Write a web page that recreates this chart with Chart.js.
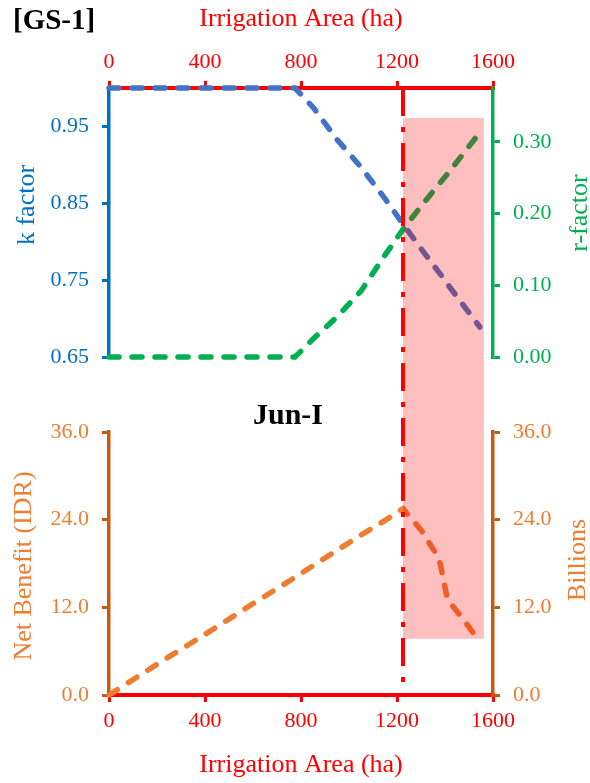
<!DOCTYPE html>
<html>
<head>
<meta charset="utf-8">
<script src="https://cdn.jsdelivr.net/npm/chart.js@4.4.1/dist/chart.umd.min.js"></script>
<style>
  html, body { margin: 0; padding: 0; background: #fff; }
  body { width: 590px; height: 783px; position: relative; overflow: hidden;
         font-family: "Liberation Serif", "Times New Roman", serif; }
  .box { position: absolute; left: 0; width: 590px; }
  #top-box { top: 0; height: 395px; }
  #bot-box { top: 395px; height: 388px; }
  .label { position: absolute; white-space: nowrap; line-height: 1; }
  .vlabel { font-size: 26px; transform: translate(-50%, -50%) rotate(-90deg); }
  #gs { left: 13px; top: 5px; font-size: 29px; font-weight: bold; color: #000; }
  #month { left: 288px; top: 414px; font-size: 30px; font-weight: bold; color: #000; transform: translate(-50%, -50%); }
</style>
</head>
<body>
<div id="top-box" class="box"><canvas id="chart-top"></canvas></div>
<div id="bot-box" class="box"><canvas id="chart-bottom"></canvas></div>

<div id="gs" class="label">[GS-1]</div>
<div id="month" class="label">Jun-I</div>
<div class="label vlabel" style="left:26px; top:205px; color:#0070C0">k factor</div>
<div class="label vlabel" style="left:579px; top:213px; color:#00B050">r-factor</div>
<div class="label vlabel" style="left:23px; top:566px; color:#ED7D31">Net Benefit (IDR)</div>
<div class="label vlabel" style="left:577px; top:560px; color:#ED7D31">Billions</div>

<script>
/* ---- Data ---- */
const AREA_TICKS = [0, 400, 800, 1200, 1600];
const K_TICKS = [0.65, 0.75, 0.85, 0.95];
const R_TICKS = [0, 0.1, 0.2, 0.3];
const NB_TICKS = [0, 12, 24, 36];

const irrigationArea = [0, 200, 400, 600, 775, 850, 950, 1050, 1150, 1225, 1300, 1375, 1390, 1410, 1475, 1545];
const kFactor    = [1, 1, 1, 1, 1, 0.975, 0.933, 0.897, 0.856, 0.823, 0.791, 0.760, 0.754, 0.745, 0.718, 0.689];
const rFactor    = [0, 0, 0, 0, 0, 0.025, 0.056, 0.092, 0.142, 0.178, 0.210, 0.241, 0.247, 0.255, 0.283, 0.313];
const netBenefit = [0, 4.2, 8.3, 12.5, 16.1, 17.7, 19.8, 21.9, 23.9, 25.5, 22.6, 18.7, 16.4, 13.1, 10.4, 7.3];

// optimum area and the shaded band
const optimumArea = 1225;
const shadeArea = [1225, 1562];
const shadeTopK = 0.961;
const shadeBottomNB = 7.7;

/* ---- Style ---- */
const RED = "#FF0000";
const SHADE = "rgba(255,0,0,0.25)";
const DASH_DOT = [28, 11, 5, 11];

Chart.defaults.font.family = '"Liberation Serif", "Times New Roman", serif';
Chart.defaults.font.size = 22;

const pts = ys => irrigationArea.map((x, i) => ({ x, y: ys[i] }));

function dashed(label, data, color, axis) {
  return {
    label, data, yAxisID: axis,
    borderColor: color, borderWidth: 5.5, borderDash: [10, 13], borderCapStyle: "round",
    pointRadius: 0, tension: 0, fill: false, clip: false
  };
}

function xAxis(pos) {
  return {
    type: "linear", axis: "x", position: pos, min: 0, max: 1600,
    afterBuildTicks: s => { s.ticks = AREA_TICKS.map(v => ({ value: v })); },
    afterFit: s => { s.height = 88; },
    border: { color: RED, width: 4 },
    grid: { drawOnChartArea: false, drawTicks: true, tickLength: 7, color: RED, lineWidth: 3 },
    ticks: { color: RED, padding: 6, maxRotation: 0, callback: v => String(v) },
    title: { display: true, text: "Irrigation Area (ha)", color: RED, font: { size: 26 }, padding: { top: 4, bottom: 2 } }
  };
}

function yAxis(pos, lineColor, textColor, ticks, min, max, digits, width) {
  return {
    type: "linear", axis: "y", position: pos, min, max,
    afterBuildTicks: s => { s.ticks = ticks.map(v => ({ value: v })); },
    afterFit: s => { s.width = width; },
    border: { color: lineColor, width: 3.5 },
    grid: { drawOnChartArea: false, drawTicks: true, tickLength: 7, color: lineColor, lineWidth: 3 },
    ticks: { color: textColor, padding: 13, callback: v => Number(v).toFixed(digits) }
  };
}

function drawMarker(ctx, x, y0, y1, offset) {
  ctx.save();
  ctx.strokeStyle = RED;
  ctx.lineWidth = 4;
  ctx.setLineDash(DASH_DOT);
  ctx.lineDashOffset = offset;
  ctx.beginPath();
  ctx.moveTo(x, y0);
  ctx.lineTo(x, y1);
  ctx.stroke();
  ctx.restore();
}

const common = {
  responsive: true, maintainAspectRatio: false, animation: false,
  plugins: { legend: { display: false }, tooltip: { enabled: false } }
};

/* ---- Top panel: k factor / r-factor ---- */
const topChart = new Chart(document.getElementById("chart-top"), {
  type: "line",
  data: {
    datasets: [
      dashed("k factor", pts(kFactor), "#4472C4", "kAxis"),
      dashed("r-factor", pts(rFactor), "#00B050", "rAxis")
    ]
  },
  options: {
    ...common,
    layout: { padding: { top: 0, bottom: 38, left: 0, right: 0 } },
    scales: {
      x: xAxis("top"),
      kAxis: yAxis("left", "#0070C0", "#0070C0", K_TICKS, 0.65, 1.0, 2, 109),
      rAxis: yAxis("right", "#00B050", "#00B050", R_TICKS, 0, 0.375, 2, 97)
    }
  },
  plugins: [{
    id: "shadeTop",
    afterDatasetsDraw(chart) {
      const { ctx, scales: { x, kAxis } } = chart;
      const x1 = x.getPixelForValue(shadeArea[0]);
      const x2 = x.getPixelForValue(shadeArea[1]);
      const yTop = kAxis.getPixelForValue(shadeTopK);
      ctx.save();
      ctx.fillStyle = SHADE;
      ctx.fillRect(x1, yTop, x2 - x1, chart.height - yTop);
      ctx.restore();
      drawMarker(ctx, x.getPixelForValue(optimumArea), chart.chartArea.top, chart.height, 0);
    }
  }]
});

/* ---- Bottom panel: net benefit ---- */
new Chart(document.getElementById("chart-bottom"), {
  type: "line",
  data: {
    datasets: [dashed("Net Benefit", pts(netBenefit), "#ED7D31", "nbAxis")]
  },
  options: {
    ...common,
    layout: { padding: { top: 37, bottom: 0, left: 0, right: 0 } },
    scales: {
      x: xAxis("bottom"),
      nbAxis: yAxis("left", "#C55A11", "#ED7D31", NB_TICKS, 0, 36, 1, 109),
      nbAxis2: yAxis("right", "#C55A11", "#ED7D31", NB_TICKS, 0, 36, 1, 97)
    }
  },
  plugins: [{
    id: "shadeBottom",
    afterDatasetsDraw(chart) {
      const { ctx, scales: { x, nbAxis } } = chart;
      const x1 = x.getPixelForValue(shadeArea[0]);
      const x2 = x.getPixelForValue(shadeArea[1]);
      const yBot = nbAxis.getPixelForValue(shadeBottomNB);
      ctx.save();
      ctx.fillStyle = SHADE;
      ctx.fillRect(x1, 0, x2 - x1, yBot);
      ctx.restore();
      const offset = topChart.height - topChart.chartArea.top;
      drawMarker(ctx, x.getPixelForValue(optimumArea), 0, chart.chartArea.bottom, offset);
    }
  }]
});
</script>
</body>
</html>
